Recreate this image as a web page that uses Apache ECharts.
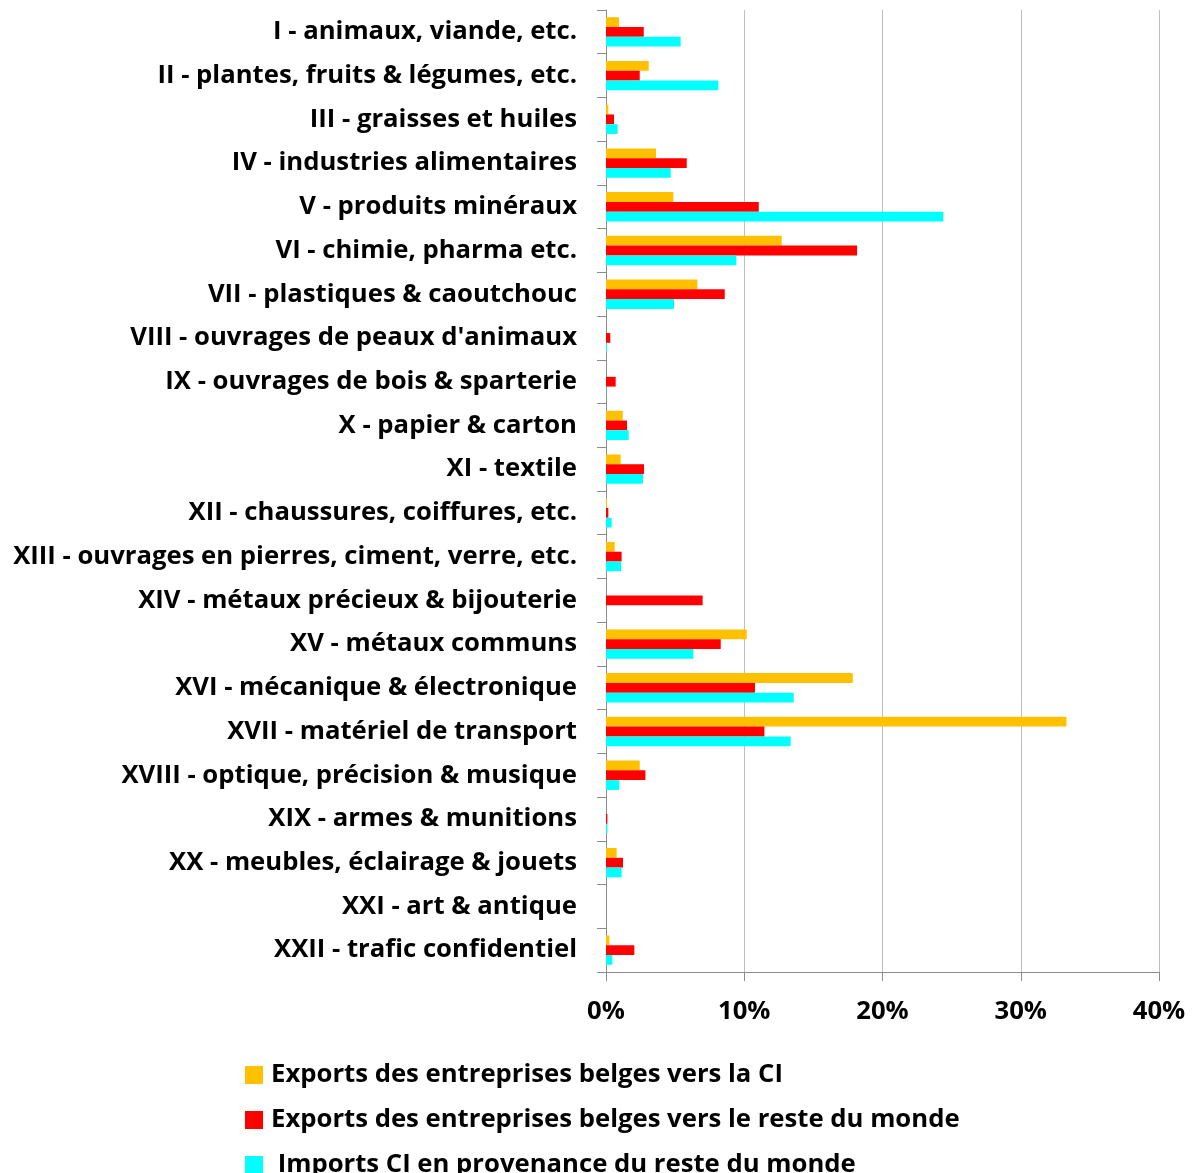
<!DOCTYPE html>
<html><head><meta charset="utf-8">
<script src="https://cdn.jsdelivr.net/npm/echarts@6/dist/echarts.min.js"></script>
<style>html,body{margin:0;padding:0;background:#fff}#c{width:1193px;height:1173px}</style>
</head><body><div id="c"></div>
<script>
const categories = [
"I - animaux, viande, etc.",
"II - plantes, fruits & légumes, etc.",
"III - graisses et huiles",
"IV - industries alimentaires",
"V - produits minéraux",
"VI - chimie, pharma etc.",
"VII - plastiques & caoutchouc",
"VIII - ouvrages de peaux d'animaux",
"IX - ouvrages de bois & sparterie",
"X - papier & carton",
"XI - textile",
"XII - chaussures, coiffures, etc.",
"XIII - ouvrages en pierres, ciment, verre, etc.",
"XIV - métaux précieux & bijouterie",
"XV - métaux communs",
"XVI - mécanique & électronique",
"XVII - matériel de transport",
"XVIII - optique, précision & musique",
"XIX - armes & munitions",
"XX - meubles, éclairage & jouets",
"XXI - art & antique",
"XXII - trafic confidentiel"
];
const seriesNames = [
"Exports des entreprises belges vers la CI",
"Exports des entreprises belges vers le reste du monde",
" Imports CI en provenance du reste du monde"
];
const exportsCI = [0.94,3.09,0.17,3.62,4.87,12.71,6.61,0,0,1.21,1.06,0.07,0.63,0,10.18,17.85,33.31,2.44,0,0.77,0,0.24];
const exportsMonde = [2.73,2.44,0.58,5.84,11.05,18.16,8.59,0.31,0.70,1.52,2.75,0.17,1.13,6.99,8.30,10.78,11.46,2.85,0.10,1.23,0,2.05];
const importsCI = [5.40,8.13,0.84,4.68,24.4,9.43,4.92,0.07,0.02,1.64,2.68,0.41,1.09,0,6.32,13.58,13.36,0.96,0.10,1.13,0,0.46];
const xTicks = [0,10,20,30,40];

const colors = ['#FFC000','#FF0000','#00FFFF'];
const font = '"Open Sans", sans-serif';
const fs = 25.7;
const chart = echarts.init(document.getElementById('c'));
const data = [exportsCI, exportsMonde, importsCI];
chart.setOption({
  animation:false,
  color: colors,
  grid:{left:606,right:34,top:10,bottom:201,containLabel:false},
  legend:{
    orient:'vertical', left:240, top:1057, height:300, itemWidth:18, itemHeight:18, itemGap:19,
    icon:'rect',
    textStyle:{fontSize:fs,lineHeight:24,fontWeight:'bold',color:'#000',fontFamily:font,padding:[0,0,0,3]},
    data: seriesNames
  },
  xAxis:{
    type:'value', min:xTicks[0], max:xTicks[xTicks.length-1], interval:10,
    axisLine:{show:true,lineStyle:{color:'#8c8c8c',width:1}},
    axisTick:{show:true,length:9,lineStyle:{color:'#8c8c8c'}},
    splitLine:{show:true,lineStyle:{color:'#bfbfbf',width:1}},
    axisLabel:{formatter:v=>v+'%',fontSize:fs,fontWeight:'bold',color:'#000',fontFamily:font,margin:27}
  },
  yAxis:{
    type:'category', data:categories, inverse:true,
    axisLine:{show:true,lineStyle:{color:'#8c8c8c'}},
    axisTick:{show:true,length:9,inside:false,alignWithLabel:false,lineStyle:{color:'#8c8c8c'}},
    axisLabel:{fontSize:fs,fontWeight:'bold',color:'#000',fontFamily:font,margin:29,interval:0,padding:[3,0,0,0]}
  },
  series: data.map((d,i)=>({
    name: seriesNames[i], type:'bar', data:d, barGap:'0%', barCategoryGap:'33%',
    itemStyle:{color:colors[i]}
  }))
});
</script></body></html>
